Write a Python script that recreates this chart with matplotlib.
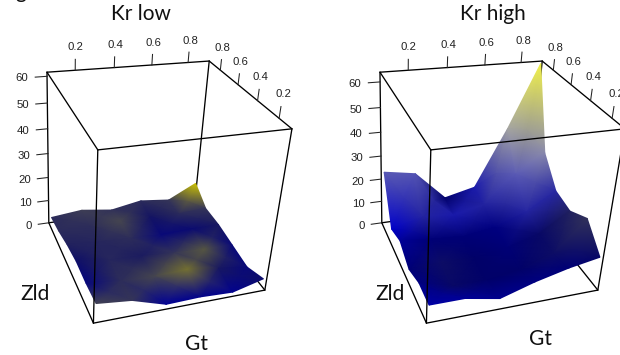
import numpy as np
import matplotlib
matplotlib.use("Agg")
import matplotlib.pyplot as plt
from matplotlib.colors import LinearSegmentedColormap

# ---- data ----
GT = [0.073, 0.24, 0.41, 0.58, 0.75, 0.908]    # left -> right along the back edge
ZLD = [0.925, 0.77, 0.60, 0.43, 0.26, 0.10]    # back -> front
GT_RANGE = (0.06, 0.92)
ZLD_RANGE = (0.09, 0.935)
AXIS_TICKS = [0.2, 0.4, 0.6, 0.8]
Z_TICKS_LOW = [0, 10, 20, 30, 40, 50, 60]
Z_TICKS_HIGH = [0, 10, 20, 30, 40, 50, 60]

KR_LOW_HEIGHT = [
    [2.7, 4.1, 2.3, 4.7, 3.3, 9.5],
    [3.7, 4.0, 4.0, 4.0, 3.5, 4.2],
    [5.7, 4.5, 4.0, 3.5, 4.0, 4.0],
    [6.9, 5.0, 4.5, 3.5, 3.0, 2.7],
    [6.6, 5.0, 4.5, 5.0, 3.0, 1.4],
    [7.1, 5.7, 1.4, 1.8, 1.2, 4.5],
]
KR_LOW_SHADE = [
    [0.32, 0.40, 0.35, 0.32, 0.36, 1.00],
    [0.32, 0.33, 0.45, 0.22, 0.32, 0.36],
    [0.28, 0.30, 0.33, 0.12, 0.15, 0.24],
    [0.18, 0.30, 0.25, 0.36, 0.55, 0.12],
    [0.10, 0.33, 0.45, 0.68, 0.24, 0.12],
    [0.42, 0.36, 0.00, 0.05, 0.03, 0.18],
]
KR_HIGH_HEIGHT = [
    [23.3, 21.0, 8.2, 11.4, 36.5, 63.0],
    [4.6, 8.0, 7.0, 10.0, 22.0, 30.0],
    [7.5, 6.0, 5.0, 7.0, 12.0, 19.8],
    [3.6, 4.0, 4.0, 6.0, 10.0, 18.2],
    [6.9, 3.0, 3.0, 5.0, 10.0, 22.7],
    [6.7, 6.7, 3.9, 8.3, 11.7, 14.0],
]
KR_HIGH_SHADE = [
    [0.42, 0.40, 0.08, 0.22, 0.68, 1.00],
    [0.16, 0.24, 0.22, 0.24, 0.42, 0.58],
    [0.12, 0.09, 0.09, 0.10, 0.24, 0.26],
    [0.09, 0.06, 0.08, 0.09, 0.07, 0.03],
    [0.10, 0.07, 0.08, 0.08, 0.06, 0.00],
    [0.13, 0.12, 0.11, 0.10, 0.09, 0.07],
]

# ---- style ----
INK = "#222222"
TITLE_FONT = "Lato"
TICK_FONT = "Liberation Sans"


def ramp(name, stops):
    return LinearSegmentedColormap.from_list(
        name, [(p, tuple(c / 255 for c in rgb)) for p, rgb in stops])


CMAP_LOW = ramp("low", [(0.0, (0, 0, 150)), (0.2, (15, 15, 100)), (0.4, (62, 62, 85)),
                        (0.6, (95, 95, 60)), (0.8, (150, 140, 30)), (1.0, (210, 200, 0))])
CMAP_HIGH = ramp("high", [(0.0, (50, 50, 90)), (0.08, (0, 0, 105)), (0.16, (0, 0, 205)),
                          (0.24, (35, 35, 160)), (0.45, (100, 100, 185)),
                          (0.7, (170, 170, 160)), (1.0, (245, 245, 70))])

# ---- camera: fitted from where the box corners fall in the picture ----
BOX_PIXELS = {(0, 1, 1): (47, 72), (1, 1, 1): (209, 61), (1, 0, 1): (292, 129),
              (0, 0, 1): (98, 150), (0, 1, 0): (49, 223), (0, 0, 0): (93, 323),
              (1, 0, 0): (265, 290)}


def fit_camera(pixels):
    rows = []
    for (u, v, w), (x, y) in pixels.items():
        rows.append([u, v, w, 1, 0, 0, 0, 0, -x * u, -x * v, -x * w, -x])
        rows.append([0, 0, 0, 0, u, v, w, 1, -y * u, -y * v, -y * w, -y])
    return np.linalg.svd(np.array(rows, float))[2][-1].reshape(3, 4)


CAMERA = fit_camera(BOX_PIXELS)


class Panel:
    def __init__(self, ax, shift, zmax):
        self.ax, self.shift, self.zmax = ax, shift, zmax
        self.z = 1

    def box(self, u, v, w):
        """Box-fraction coordinates -> picture position."""
        u, v, w = np.broadcast_arrays(np.asarray(u, float), np.asarray(v, float),
                                      np.asarray(w, float))
        h = CAMERA @ np.stack([u, v, w, np.ones_like(u)], axis=0).reshape(4, -1)
        return (h[0] / h[2]).reshape(u.shape) + self.shift, (h[1] / h[2]).reshape(u.shape)

    def data(self, gt, zld, z):
        u = (np.asarray(gt, float) - GT_RANGE[0]) / (GT_RANGE[1] - GT_RANGE[0])
        v = (np.asarray(zld, float) - ZLD_RANGE[0]) / (ZLD_RANGE[1] - ZLD_RANGE[0])
        return self.box(u, v, np.asarray(z, float) / self.zmax)

    def edge(self, a, b):
        x, y = self.box(np.array([a[0], b[0]]), np.array([a[1], b[1]]), np.array([a[2], b[2]]))
        self.ax.plot(x, y, color="black", lw=0.95, solid_capstyle="round", zorder=self.z)


def draw_panel(ax, shift, zmax, height, shade, cmap, z_ticks, title, title_xy, zld_xy, gt_xy):
    p = Panel(ax, shift, zmax)
    # edges behind the surface
    p.z = 1
    for a, b in [((0, 1, 0), (0, 0, 0)), ((0, 0, 0), (1, 0, 0)), ((1, 0, 0), (1, 1, 0)),
                 ((0, 1, 0), (1, 1, 0)), ((1, 1, 0), (1, 1, 1))]:
        p.edge(a, b)
    # surface, back row first
    g, l = np.meshgrid(GT, ZLD)
    X, Y = p.data(g, l, np.array(height))
    ax.pcolormesh(X, Y, np.array(shade), shading="gouraud", cmap=cmap, vmin=0, vmax=1, zorder=2)
    # edges in front of it
    p.z = 3
    for a, b in [((0, 1, 1), (1, 1, 1)), ((1, 1, 1), (1, 0, 1)), ((1, 0, 1), (0, 0, 1)),
                 ((0, 0, 1), (0, 1, 1)), ((0, 1, 1), (0, 1, 0)), ((0, 0, 1), (0, 0, 0)),
                 ((1, 0, 1), (1, 0, 0))]:
        p.edge(a, b)
    # height ticks
    for t in z_ticks:
        x, y = p.box(np.array([-0.067, 0.0]), 1.0, t / zmax)
        ax.plot(x, y, color=INK, lw=0.75, zorder=3)
        lx, ly = p.box(-0.105, 1.0, t / zmax)
        ax.text(float(lx), float(ly) + 0.5, str(t), ha="right", va="center",
                fontsize=8.2, color=INK, family=TICK_FONT)
    # ticks on the two top edges
    for t in AXIS_TICKS:
        u = (t - GT_RANGE[0]) / (GT_RANGE[1] - GT_RANGE[0])
        v = (t - ZLD_RANGE[0]) / (ZLD_RANGE[1] - ZLD_RANGE[0])
        for a, b in ((u, 1.0), (1.0, v)):
            x, y = p.box(a, b, np.array([1.0, 1.065]))
            ax.plot(x, y, color=INK, lw=0.75, zorder=3)
            lx, ly = p.box(a, b, 1.135)
            ax.text(float(lx), float(ly), f"{t:.1f}", ha="center", va="center",
                    fontsize=8.2, color=INK, family=TICK_FONT)
    for s, xy in ((title, title_xy), ("Zld", zld_xy), ("Gt", gt_xy)):
        ax.text(xy[0], xy[1], s, ha="center", va="baseline", fontsize=15,
                color="#111111", family=TITLE_FONT)


fig = plt.figure(figsize=(6.2, 3.55), dpi=100)
ax = fig.add_axes([0, 0, 1, 1])
ax.set_xlim(0, 620)
ax.set_ylim(355, 0)
ax.axis("off")

draw_panel(ax, 0, 61.5, KR_LOW_HEIGHT, KR_LOW_SHADE, CMAP_LOW, Z_TICKS_LOW,
           "Kr low", (141, 20), (35, 300), (197, 350))
draw_panel(ax, 333, 63.7, KR_HIGH_HEIGHT, KR_HIGH_SHADE, CMAP_HIGH, Z_TICKS_HIGH,
           "Kr high", (493, 20), (390, 300), (541, 345))
# the panel letter is cut off by the top of the picture
ax.text(21, -2, "g", ha="center", va="baseline", fontsize=15, color="#111111",
        family=TITLE_FONT, clip_on=False)

fig.savefig("out.png", dpi=100)
